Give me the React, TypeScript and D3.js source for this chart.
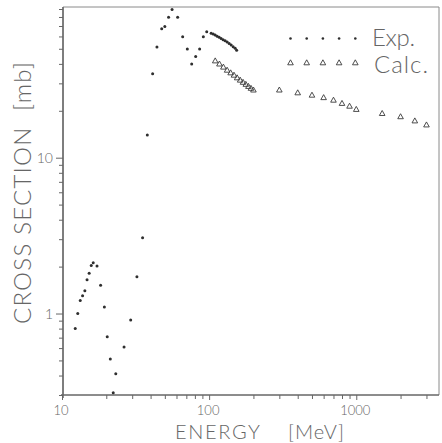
import React, { useEffect, useRef } from "react";
import * as d3 from "d3";

// photonuclear cross section
const expEnergy = [
  12.3, 12.8, 13.3, 13.8, 14.3, 14.8, 15.3, 15.8, 16.3, 17.3, 18.3, 19.4, 20.3,
  21.3, 22.3, 23.2, 26.4, 29.3, 32.3, 35.3, 38.0, 41.3, 44.2, 47.6, 50.0, 53.0,
  56.0, 61.1, 66.1, 71.1, 76.1, 81.0, 86.2, 91.3, 96.3, 103.2, 106.5, 109.9,
  113.4, 117.0, 120.7, 124.5, 128.5, 132.6, 136.8, 141.2, 145.7, 150.3, 153.8,
];
const expSigma = [
  0.8, 1.0, 1.21, 1.3, 1.4, 1.65, 1.81, 2.03, 2.12, 2.02, 1.52, 1.1, 0.71, 0.51,
  0.31, 0.41, 0.61, 0.91, 1.72, 3.06, 14.0, 34.6, 51.3, 67.1, 69.5, 79.8, 89.5,
  79.8, 59.7, 49.8, 39.9, 44.6, 49.8, 59.7, 64.2, 63.0, 62.1, 61.2, 60.2, 59.2,
  58.3, 57.2, 56.2, 55.2, 54.0, 52.9, 51.6, 50.3, 48.9,
];

const calcEnergy = [
  110, 117.5, 125, 132.5, 140, 147.5, 155, 162.5, 170, 177.5, 185, 192.5, 200,
  300, 400, 500, 600, 700, 800, 900, 1000, 1500, 2000, 2500, 3000,
];
const calcSigma = [
  42.0, 40.1, 38.3, 36.6, 35.2, 34.0, 32.7, 31.6, 30.6, 29.7, 28.8, 28.0, 27.3,
  27.3, 26.2, 25.3, 24.4, 23.5, 22.4, 21.5, 20.5, 19.3, 18.4, 17.3, 16.3,
];

const xMajor = [10, 100, 1000];
const xMinor = [
  20, 30, 40, 50, 60, 70, 80, 90, 200, 300, 400, 500, 600, 700, 800, 900, 2000,
  3000,
];
const yMajor = [1, 10];
const yMinor = [
  0.3, 0.4, 0.5, 0.6, 0.7, 0.8, 0.9, 2, 3, 4, 5, 6, 7, 8, 9, 20, 30, 40, 50, 60,
  70, 80, 90,
];
const legendLabels = ["Exp.", "Calc."];

const W = 442,
  H = 443;
const left = 63,
  right = 439,
  top = 7,
  bottom = 395;

const x = d3.scaleLog().domain([10, 3650]).range([62, 439]);
const y = d3.scaleLog().domain([0.3, 90]).range([395, 9]);

const ink = "#666";
const dotInk = "#2e2e2e";
const font = "Lato, 'Liberation Sans', Arial, sans-serif";
const tri = "M-2.8,2.3L0,-2.7L2.8,2.3Z";

export default function App() {
  const ref = useRef<SVGSVGElement>(null);

  useEffect(() => {
    const svg = d3.select(ref.current);
    svg.selectAll("*").remove();

    const label = (sel: any, size: number) =>
      sel
        .style("font-family", font)
        .style("font-weight", 300)
        .style("font-size", size + "px")
        .style("fill", ink);

    // frame
    svg
      .append("path")
      .attr("d", `M${left},${bottom}V${top}H${right}V${bottom}`)
      .attr("fill", "none")
      .attr("stroke", "#8a8a8a")
      .attr("stroke-width", 1);

    // x axis
    const gx = svg.append("g").attr("transform", `translate(0,${bottom})`);
    gx.append("g").call(
      d3.axisBottom(x).tickValues(xMinor).tickSize(4).tickFormat(() => "")
    );
    gx.append("g").call(
      d3.axisBottom(x).tickValues(xMajor).tickSize(5).tickFormat(() => "")
    );
    gx.selectAll(".domain").attr("d", `M${left - 2},0H${right}`);
    gx.selectAll("path,line").attr("stroke", ink);
    gx.selectAll("text").remove();
    svg
      .append("g")
      .selectAll("text")
      .data(xMajor)
      .enter()
      .append("text")
      .attr("x", (d) => x(d) - 1)
      .attr("y", 414.5)
      .attr("text-anchor", "middle")
      .call(label, 13)
      .text((d) => String(d));

    // y axis
    const gy = svg.append("g").attr("transform", `translate(${left},0)`);
    gy.append("g").call(
      d3.axisLeft(y).tickValues(yMinor).tickSize(4).tickFormat(() => "")
    );
    gy.append("g").call(
      d3.axisLeft(y).tickValues(yMajor).tickSize(7).tickFormat(() => "")
    );
    gy.selectAll(".domain").attr("d", `M0,${top}V${bottom + 3}`);
    gy.selectAll("path,line").attr("stroke", ink);
    gy.selectAll("text").remove();
    svg
      .append("g")
      .selectAll("text")
      .data(yMajor)
      .enter()
      .append("text")
      .attr("x", 53)
      .attr("y", (d) => y(d) + 5)
      .attr("text-anchor", "end")
      .call(label, 14)
      .text((d) => String(d));

    // axis titles
    svg
      .append("text")
      .attr("x", 175)
      .attr("y", 438.5)
      .attr("textLength", 85)
      .call(label, 20)
      .text("ENERGY");
    svg
      .append("text")
      .attr("x", 288)
      .attr("y", 438.5)
      .attr("textLength", 56)
      .call(label, 20)
      .text("[MeV]");
    svg
      .append("text")
      .attr("transform", "translate(31,324) rotate(-90)")
      .attr("textLength", 262)
      .attr("lengthAdjust", "spacing")
      .call(label, 24)
      .style("white-space", "pre")
      .text("CROSS SECTION  [mb]");

    // experimental points
    svg
      .append("g")
      .selectAll("circle")
      .data(expEnergy)
      .enter()
      .append("circle")
      .attr("cx", (d) => x(d))
      .attr("cy", (d, i) => y(expSigma[i]))
      .attr("r", 1.5)
      .style("fill", dotInk);

    // calculation
    svg
      .append("g")
      .selectAll("path")
      .data(calcEnergy)
      .enter()
      .append("path")
      .attr("d", tri)
      .attr("transform", (d, i) => `translate(${x(d)},${y(calcSigma[i])})`)
      .attr("fill", "none")
      .attr("stroke", "#3a3a3a")
      .attr("stroke-width", 0.9)
      .attr("stroke-linejoin", "round");

    // legend
    const lx = d3.range(5).map((i) => 290.5 + i * 16.2);
    const legend = svg.append("g");
    legend
      .selectAll("circle")
      .data(lx)
      .enter()
      .append("circle")
      .attr("cx", (d) => d)
      .attr("cy", 38.5)
      .attr("r", 1.3)
      .style("fill", dotInk);
    legend
      .selectAll("path")
      .data(lx)
      .enter()
      .append("path")
      .attr("d", tri)
      .attr("transform", (d) => `translate(${d},62.5)`)
      .attr("fill", "none")
      .attr("stroke", "#3a3a3a")
      .attr("stroke-width", 0.9)
      .attr("stroke-linejoin", "round");
    legend
      .selectAll("text")
      .data(legendLabels)
      .enter()
      .append("text")
      .attr("x", (d, i) => (i === 0 ? 372 : 374))
      .attr("y", (d, i) => (i === 0 ? 46 : 73))
      .attr("textLength", (d, i) => (i === 0 ? 43 : 54))
      .call(label, 24)
      .text((d) => d);
  }, []);

  return (
    <svg
      ref={ref}
      width={W}
      height={H}
      style={{ position: "absolute", left: 0, top: 0, background: "#fff" }}
    />
  );
}
